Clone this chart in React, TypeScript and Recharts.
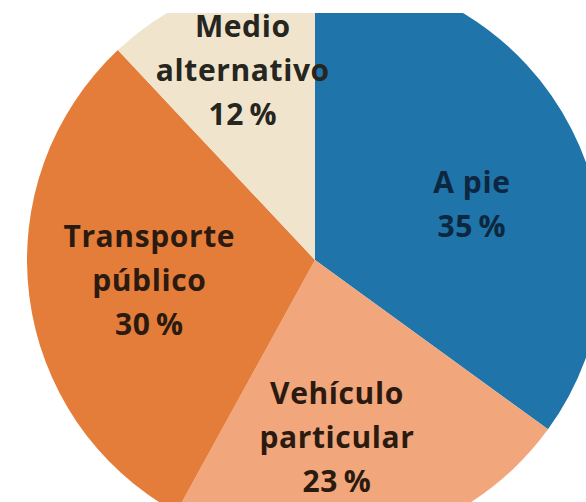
import { PieChart, Pie, Cell } from 'recharts';

const modos = ['A pie', 'Vehículo particular', 'Transporte público', 'Medio alternativo'];
const porcentajes = [35, 23, 30, 12];
const etiquetas = [['A pie'], ['Vehículo', 'particular'], ['Transporte', 'público'], ['Medio', 'alternativo']];

const colores = ['#1F74A9', '#F1A67B', '#E47D3A', '#F0E4CC'];
const coloresTexto = ['#0E2740', '#2B1A10', '#2B1A10', '#262520'];
// distancia del rótulo al centro (fracción del radio) y pequeño ajuste a mano
const radioRotulo = [0.58, 0.62, 0.58, 0.7];
const ajuste = [[8, 19], [-17, 2], [0, -2], [2, -4]];

const data = modos.map((m, i) => ({ name: m, value: porcentajes[i] }));

const RAD = Math.PI / 180;

const renderLabel = (props: any) => {
  const { cx, cy, midAngle, outerRadius, index, value } = props;
  const r = outerRadius * radioRotulo[index];
  const x = cx + r * Math.cos(-midAngle * RAD) + ajuste[index][0];
  const y = cy + r * Math.sin(-midAngle * RAD) + ajuste[index][1];
  const lines = [...etiquetas[index], `${value}\u2009%`];
  const lh = 44;
  const y0 = y - ((lines.length - 1) * lh) / 2;
  return (
    <text
      x={x}
      y={y0}
      textAnchor="middle"
      dominantBaseline="central"
      fill={coloresTexto[index]}
      style={{ fontFamily: '"Open Sans", sans-serif', fontWeight: 700, fontSize: 30, letterSpacing: 0.6 }}
    >
      {lines.map((l, i) => (
        <tspan key={i} x={x} y={y0 + i * lh}>
          {l}
        </tspan>
      ))}
    </text>
  );
};

export default function App() {
  return (
    <div style={{ position: 'absolute', left: 0, top: 0, width: 586, height: 502, background: '#fff', overflow: 'hidden' }}>
      <PieChart width={586} height={502} margin={{ top: 0, right: 0, bottom: 0, left: 0 }}>
        <Pie
          data={data}
          dataKey="value"
          nameKey="name"
          cx={315}
          cy={260}
          outerRadius={288}
          startAngle={90}
          endAngle={-270}
          stroke="none"
          label={renderLabel}
          labelLine={false}
          isAnimationActive={false}
        >
          {data.map((d, i) => (
            <Cell key={d.name} fill={colores[i]} />
          ))}
        </Pie>
      </PieChart>
      {/* franja blanca del recorte superior */}
      <div style={{ position: 'absolute', left: 0, top: 0, width: 586, height: 13, background: '#fff' }} />
    </div>
  );
}
